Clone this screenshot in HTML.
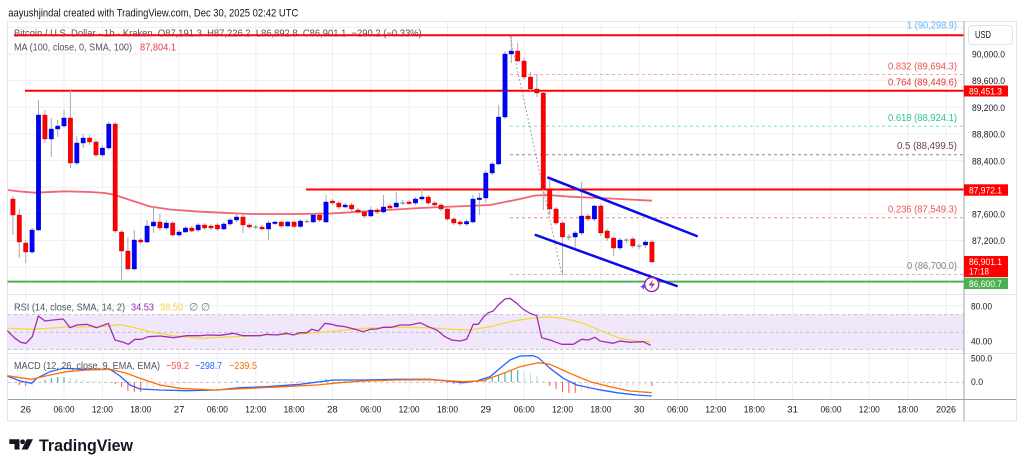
<!DOCTYPE html>
<html><head><meta charset="utf-8"><style>
html,body{margin:0;padding:0;background:#fff;}
svg{display:block;font-family:"Liberation Sans",sans-serif;}
</style></head><body>
<svg width="1024" height="468" viewBox="0 0 1024 468" xmlns="http://www.w3.org/2000/svg">
<rect width="1024" height="468" fill="#fff"/>
<text x="8.3" y="16.5" font-size="11" fill="#131722" textLength="290" lengthAdjust="spacingAndGlyphs">aayushjindal created with TradingView.com, Dec 30, 2025 02:42 UTC</text>

<!-- frame -->
<rect x="7.5" y="21.5" width="1009" height="399.5" fill="#fff" stroke="#e0e3eb" stroke-width="1"/>

<!-- vertical grid -->
<g stroke="#eeeff2" stroke-width="1">
<path d="M25.7 22V399M64 22V399M102.4 22V399M140.7 22V399M179.1 22V399M217.4 22V399M255.8 22V399M294.1 22V399M332.4 22V399M370.8 22V399M409.1 22V399M447.5 22V399M485.8 22V399M524.2 22V399M562.5 22V399M600.9 22V399M639.2 22V399M677.6 22V399M715.9 22V399M754.3 22V399M792.6 22V399M831 22V399M869.3 22V399M907.7 22V399M946 22V399"/>
<path d="M8 27.4H964M8 54H964M8 80.6H964M8 107.3H964M8 134H964M8 160.6H964M8 187.2H964M8 213.9H964M8 240.5H964M8 267.2H964M8 305.7H964M8 358H964"/>
</g>

<!-- pane separators -->
<path d="M8 294.5H1016M8 353.5H1016" stroke="#e0e3eb" stroke-width="1"/>

<!-- RSI band -->
<rect x="8" y="314.5" width="956" height="35" fill="#f1e7fb"/>
<path d="M8 314.5H964M8 332.3H964M8 349.5H964" stroke="#b8b3c4" stroke-width="0.8" stroke-dasharray="3,3"/>
<!-- MACD zero -->
<path d="M8 382.3H964" stroke="#b8b8b8" stroke-width="0.8" stroke-dasharray="3,3"/>

<!-- fib dashed lines -->
<g stroke-width="1" stroke-dasharray="3,3" fill="none">
<path d="M510 74.5H964" stroke="#f4a3a3"/>
<path d="M510 126.3H964" stroke="#7fe0bf"/>
<path d="M510 154.7H964" stroke="#a77a8c"/>
<path d="M510 217.8H964" stroke="#f08b8b"/>
<path d="M510 274.5H964" stroke="#bdbdbd"/>
</g>
<!-- fib diagonal -->
<path d="M510 36L562 275" stroke="#a0a0a0" stroke-width="1" stroke-dasharray="2,2" fill="none"/>

<!-- MA 100 -->
<polyline fill="none" stroke="#f2495a" stroke-opacity="0.85" stroke-width="1.8" stroke-linejoin="round" points="8,190 20,191.5 35,192.7 65,191.3 90,192 105,193 115,195 130,200 150,206.5 170,209.5 200,211.7 250,214 300,214 330,213.5 360,211.7 420,208 490,205 505,202 520,199 535,195.5 548,195 570,196.7 610,198.5 652,200.7"/>

<!-- legend line 1 (under red line) -->
<text x="14" y="36.5" font-size="10.5" fill="#50535e" xml:space="preserve" textLength="407.7" lengthAdjust="spacingAndGlyphs">Bitcoin / U.S. Dollar · 1h · Kraken  O87,191.3  H87,226.2  L86,892.8  C86,901.1  −290.2 (−0.33%)</text>

<!-- horizontal level lines -->
<path d="M14 35.3H964" stroke="#ff0000" stroke-width="2"/>
<path d="M25 90.7H964" stroke="#ff0000" stroke-width="2"/>
<path d="M306 189.5H964" stroke="#ff0000" stroke-width="2"/>
<path d="M7.5 281.6H964" stroke="#4caf50" stroke-width="2"/>

<!-- wicks -->
<path fill="none" stroke="#a9abb0" stroke-width="1" d="M12.9 196V235M19.3 209V258M25.7 240V263M32.1 228V254M38.5 100V231M44.9 110V143M51.3 118V157M57.7 120V137M64 110V128M70.4 89V168M76.8 136V165M83.2 134V148M89.6 135V145M96 140V157M102.4 145V157M108.8 122V150M115.2 122V233M121.6 230V280M127.9 237V270M134.3 230V270M140.7 238V244M147.1 220V243M153.5 207V233M159.9 214V231M166.3 220V230M172.7 221V236M179.1 230V237M185.5 226V233M191.8 226V232M198.2 223V232M204.6 223V230M211 224V230M217.4 223V231M223.8 222V230M230.2 218V226M236.6 213V222M243 215V233M249.4 223V229M255.7 225V229M262.1 225V230M268.5 221V240M274.9 221V225M281.3 221V228M287.7 221V227M294.1 221V228M300.5 219V228M306.9 219V223M313.3 213V223M319.6 212V222M326 195V223M332.4 199V205M338.8 201V209M345.2 203V208M351.6 203V211M358 208V214M364.4 210V218M370.8 207V217M377.2 208V214M383.5 195V213M389.9 204V210M396.3 192V209M402.7 200V205M409.1 200V205M415.5 197V205M421.9 188V201M428.3 195V205M434.7 201V207M441.1 203V211M447.4 207V221M453.8 217V225M460.2 220V226M466.6 219V226M473 195V223M479.4 193V215M485.8 170V203M492.2 162V175M498.6 105V165M505 51V119M511.3 36V63M517.7 43V62M524.1 58V79M530.5 72V91M536.9 74V97M543.3 91V210M549.7 180V215M556.1 207V225M562.5 221V275M568.9 234V240M575.2 231V248M581.6 182V235M588 214V221M594.4 205V221M600.8 204V236M607.2 229V241M613.6 236V256M620 238V250M626.4 238V243M632.8 237V248M639.1 244V249M645.5 240V248M651.9 240V262"/>

<!-- red bodies -->
<path fill="#ff0000" stroke="#c80000" stroke-width="0.4" d="M10.7 199h4.4v16h-4.4zM17.1 215h4.4v27h-4.4zM23.5 243h4.4v9h-4.4zM42.7 115h4.4v24h-4.4zM68.2 118h4.4v45h-4.4zM87.4 138h4.4v4h-4.4zM93.8 142h4.4v13h-4.4zM113 124h4.4v107h-4.4zM119.4 232h4.4v19h-4.4zM125.7 251h4.4v18h-4.4zM138.5 240h4.4v2h-4.4zM157.7 222h4.4v6h-4.4zM170.5 223h4.4v12h-4.4zM189.6 228h4.4v3h-4.4zM202.4 225h4.4v3h-4.4zM208.8 226h4.4v2h-4.4zM215.2 225h4.4v4h-4.4zM240.8 217h4.4v8h-4.4zM247.2 225h4.4v2h-4.4zM259.9 227h4.4v2h-4.4zM279.1 222h4.4v4h-4.4zM291.9 222h4.4v4.5h-4.4zM317.4 215h4.4v5h-4.4zM330.2 201h4.4v2h-4.4zM336.6 203h4.4v4h-4.4zM349.4 205h4.4v4h-4.4zM355.8 210h4.4v2h-4.4zM362.2 212h4.4v4h-4.4zM375 210h4.4v2h-4.4zM387.7 206h4.4v2h-4.4zM406.9 202h4.4v1.6h-4.4zM426.1 197h4.4v6h-4.4zM432.5 203h4.4v2h-4.4zM438.9 205h4.4v4h-4.4zM445.2 209h4.4v10h-4.4zM451.6 219h4.4v4h-4.4zM458 222h4.4v2h-4.4zM515.5 51h4.4v10h-4.4zM521.9 61h4.4v16h-4.4zM528.3 77h4.4v12h-4.4zM534.7 89h4.4v4h-4.4zM541.1 93h4.4v96h-4.4zM547.5 189h4.4v20h-4.4zM553.9 209h4.4v14h-4.4zM560.3 223h4.4v14h-4.4zM585.8 216h4.4v3h-4.4zM598.6 206h4.4v27h-4.4zM605 231h4.4v7h-4.4zM611.4 238h4.4v10h-4.4zM630.6 239h4.4v7h-4.4zM649.7 242h4.4v20h-4.4z"/>
<!-- blue bodies -->
<path fill="#0000ff" stroke="#0000b0" stroke-width="0.4" d="M29.9 230h4.4v22h-4.4zM36.3 115h4.4v115h-4.4zM49.1 129h4.4v10h-4.4zM55.5 126h4.4v3h-4.4zM61.8 118h4.4v8h-4.4zM74.6 143h4.4v20h-4.4zM81 138h4.4v5h-4.4zM100.2 148h4.4v7h-4.4zM106.6 124h4.4v24h-4.4zM132.1 240h4.4v29h-4.4zM144.9 226h4.4v16h-4.4zM151.3 222h4.4v4h-4.4zM164.1 223h4.4v5h-4.4zM176.9 232h4.4v3h-4.4zM183.3 228h4.4v4h-4.4zM196 225h4.4v5h-4.4zM221.6 224h4.4v5h-4.4zM228 220h4.4v4h-4.4zM234.4 217h4.4v3h-4.4zM266.3 223h4.4v6h-4.4zM272.7 222h4.4v1.6h-4.4zM285.5 222h4.4v4h-4.4zM298.3 221h4.4v5.5h-4.4zM311.1 215h4.4v7h-4.4zM323.8 202h4.4v20h-4.4zM343 205h4.4v2h-4.4zM368.6 210h4.4v6h-4.4zM381.3 207h4.4v5h-4.4zM394.1 203h4.4v4h-4.4zM413.3 199h4.4v4h-4.4zM419.7 197h4.4v2h-4.4zM464.4 221.5h4.4v2.5h-4.4zM470.8 199h4.4v23h-4.4zM477.2 198h4.4v1.6h-4.4zM483.6 173h4.4v25h-4.4zM490 164h4.4v9h-4.4zM496.4 117h4.4v47h-4.4zM502.8 54h4.4v63h-4.4zM509.1 51h4.4v3h-4.4zM573 233h4.4v4h-4.4zM579.4 216h4.4v17h-4.4zM592.2 206h4.4v13h-4.4zM617.8 240h4.4v8h-4.4zM643.3 242h4.4v3h-4.4z"/>
<!-- doji -->
<path fill="#6f9a8a" d="M253.5 226.5h4.4v1.2h-4.4zM304.7 221h4.4v1.2h-4.4zM400.5 202.5h4.4v1.2h-4.4zM566.7 236.5h4.4v1.2h-4.4zM624.2 239.5h4.4v1.2h-4.4zM636.9 245.5h4.4v1.2h-4.4z"/>

<!-- channel lines -->
<path d="M548.3 177.7L696.7 236M535.7 235L676.7 286" stroke="#0a0af0" stroke-width="2.5" fill="none" stroke-linecap="round"/>

<!-- lightning icon -->
<circle cx="651.7" cy="284.5" r="7" fill="#fff" stroke="#9c27b0" stroke-width="1.4"/>
<path d="M653.2 279.6L648.6 285.4H651.9L650.4 289.4L655 283.6H651.7Z" fill="#9c27b0"/>
<path d="M643.3 283.3L644.2 285.8L646.7 286.7L644.2 287.6L643.3 290.1L642.4 287.6L639.9 286.7L642.4 285.8Z" fill="#6a3de8"/>

<!-- RSI lines -->
<polyline fill="none" stroke="#f5d742" stroke-width="1.3" stroke-linejoin="round" points="7.3,328.3 33.3,329.3 66.7,327 100,326.7 120,324.7 133.3,327.3 150,331.7 173.3,335.7 200,338.3 233.3,336.7 266.7,335 300,334 330,331.7 363.3,328.3 396.7,327.3 430,327.7 446.7,329 470,330 490,326.7 510,321.7 530,318.3 546.7,317 563.3,318.3 583.3,323.3 603.3,331.7 620,338.3 636.7,341 650.7,341.7"/>
<polyline fill="none" stroke="#a12db3" stroke-width="1.3" stroke-linejoin="round" points="7.3,330.7 15,338.3 20.7,342.3 26,343.3 32.3,336.7 38.3,316 45,321 53.3,320 63.3,319 70,327.7 76.7,325 86.7,324.3 96.7,327.7 108.3,323.3 115,340 123.3,342.3 128.3,344.3 135,339.3 141.7,339.3 148.3,336.7 160,336 173.3,337.7 186.7,335.7 200,335.7 206.7,335 220,335.3 233.3,333.3 243.3,335.7 260,335.7 266.7,334.3 276.7,335 286.7,333.3 293.3,335 300,332.7 306.7,332.7 311.7,329.3 318.3,331 325,323.3 331.7,324.3 336.7,325.7 345,326.7 355,329.3 363.3,331.7 370,329.3 376.7,329 383.3,327.3 391.7,327.3 400,325 410,325 420,322.7 428.3,326.7 436.7,330 445,336.7 451.7,340 460,341 466.7,339.3 473.3,324.3 478.3,324.3 483.3,317.3 488.3,312.7 493.3,311 498.3,305 505,299 510,298.3 516.7,303.3 523.3,309.3 530,313.3 536.7,315.7 541.7,337.7 550,340 561.7,344.3 573.3,344.3 581.7,339.3 588.3,340 595,337.3 600,341 613.3,343.3 620,341 630,342.3 643.3,341.7 650.7,345.3"/>

<!-- MACD histogram -->
<g stroke-width="1" fill="none">
<path stroke="#26a69a" d="M44.9 382V380M51.3 382V378M57.7 382V377M64 382V377M236.6 382V381M262.1 382V381M300.5 382V381M326 382V379M485.8 382V380M492.2 382V378M498.6 382V375M505 382V372M511.3 382V370M517.7 382V370"/>
<path stroke="#b2dfdb" d="M70.4 382V378M76.8 382V379M83.2 382V380M89.6 382V381M96 382V381M332.4 382V379M338.8 382V379.5M345.2 382V380M351.6 382V380.5M358 382V381M383.5 382V381M409.1 382V381M434.7 382V381M524.1 382V372M530.5 382V373M536.9 382V376M543.3 382V381"/>
<path stroke="#ff5252" d="M19.3 382V385M25.7 382V386M115.2 382V384M121.6 382V387M127.9 382V391M134.3 382V392M140.7 382V392M447.4 382V383M453.8 382V384M460.2 382V384.5M549.7 382V386M556.1 382V389M562.5 382V392M568.9 382V393M575.2 382V393M651.9 382V386"/>
<path stroke="#ffcdd2" d="M12.9 382V383M32.1 382V386M38.5 382V383M147.1 382V390M153.5 382V388M159.9 382V387M166.3 382V386M172.7 382V385M179.1 382V384.5M185.5 382V384M191.8 382V383.5M198.2 382V383M466.6 382V384M581.6 382V391M588 382V390M594.4 382V388M600.8 382V388M607.2 382V388M613.6 382V388M620 382V387M626.4 382V386M632.8 382V386M639.1 382V386M645.5 382V385"/>
</g>
<!-- MACD lines -->
<polyline fill="none" stroke="#2962ff" stroke-width="1.3" stroke-linejoin="round" points="7.3,376 20,381 31.7,383.3 36.7,378.3 50,371.7 63.3,368.3 83.3,369.3 110,369.3 120,376 130,385 140,389 160,390 186.7,390.7 216.7,390 240,387.7 266.7,386.7 300,384.3 333.3,380 363.3,380 396.7,379.3 430,379.3 453.3,381.7 463.3,382.7 476.7,381 490,376.7 500,368.3 510,360 520,356 533.3,355.7 538.3,357.7 550,368.3 563.3,378.3 576.7,385 596.7,389.3 616.7,392.7 636.7,395 651.7,396"/>
<polyline fill="none" stroke="#ff6d00" stroke-width="1.3" stroke-linejoin="round" points="7.3,375.7 20,377.7 31.7,379.3 50,375 66.7,371.7 86.7,370 110,369.3 126.7,373.3 140,378.3 160,385 180,388.3 213.3,390 250,388.3 283.3,386.7 316.7,385 340,382.7 363.3,381 396.7,380 430,379.7 463.3,381.7 483.3,380.7 503.3,373.3 520,366.7 538.3,362.7 550,364.3 570,373.3 590,381.7 610,386.7 630,391 651.7,392.7"/>

<!-- axis lines -->
<path d="M964 21.5V421M8 399.5H1016" stroke="#a0a3ab" stroke-width="1"/>

<!-- legends -->
<text x="14" y="50.5" font-size="10.5" fill="#50535e" textLength="118" lengthAdjust="spacingAndGlyphs">MA (100, close, 0, SMA, 100)</text>
<text x="140" y="50.5" font-size="10.5" fill="#f23645" textLength="36" lengthAdjust="spacingAndGlyphs">87,804.1</text>

<text x="14" y="310.5" font-size="10.5" fill="#50535e" textLength="111" lengthAdjust="spacingAndGlyphs">RSI (14, close, SMA, 14, 2)</text>
<text x="131" y="310.5" font-size="10.5" fill="#9c27b0" textLength="23" lengthAdjust="spacingAndGlyphs">34.53</text>
<text x="160" y="310.5" font-size="10.5" fill="#f5d742" textLength="23" lengthAdjust="spacingAndGlyphs">38.50</text>
<text x="189" y="310.5" font-size="10.5" fill="#787b86">∅</text>
<text x="201" y="310.5" font-size="10.5" fill="#787b86">∅</text>

<text x="14" y="369" font-size="10.5" fill="#50535e" textLength="146" lengthAdjust="spacingAndGlyphs">MACD (12, 26, close, 9, EMA, EMA)</text>
<text x="166" y="369" font-size="10.5" fill="#ff5252" textLength="23" lengthAdjust="spacingAndGlyphs">−59.2</text>
<text x="195" y="369" font-size="10.5" fill="#2962ff" textLength="27" lengthAdjust="spacingAndGlyphs">−298.7</text>
<text x="229" y="369" font-size="10.5" fill="#ff6d00" textLength="28" lengthAdjust="spacingAndGlyphs">−239.5</text>

<!-- fib labels -->
<g font-size="10" text-anchor="end">
<text x="957" y="28.5" fill="#64b5f6" textLength="50" lengthAdjust="spacingAndGlyphs">1 (90,298.9)</text>
<text x="957" y="69.5" fill="#ef5350" textLength="69" lengthAdjust="spacingAndGlyphs">0.832 (89,694.3)</text>
<text x="957" y="85.5" fill="#e53935" textLength="69" lengthAdjust="spacingAndGlyphs">0.764 (89,449.6)</text>
<text x="957" y="120.8" fill="#2bc48a" textLength="69" lengthAdjust="spacingAndGlyphs">0.618 (88,924.1)</text>
<text x="957" y="149.2" fill="#6e3a5a" textLength="60" lengthAdjust="spacingAndGlyphs">0.5 (88,499.5)</text>
<text x="957" y="212.5" fill="#ef5350" textLength="69" lengthAdjust="spacingAndGlyphs">0.236 (87,549.3)</text>
<text x="957" y="269.2" fill="#808080" textLength="50" lengthAdjust="spacingAndGlyphs">0 (86,700.0)</text>
</g>

<!-- price axis -->
<rect x="968.5" y="25.5" width="44" height="19" rx="3" fill="#fff" stroke="#e0e3eb"/>
<text x="975" y="37.8" font-size="10" fill="#131722" textLength="16" lengthAdjust="spacingAndGlyphs">USD</text>
<g font-size="9.5" fill="#131722">
<text x="972" y="57.3" textLength="33" lengthAdjust="spacingAndGlyphs">90,000.0</text>
<text x="972" y="84" textLength="33" lengthAdjust="spacingAndGlyphs">89,600.0</text>
<text x="972" y="111" textLength="33" lengthAdjust="spacingAndGlyphs">89,200.0</text>
<text x="972" y="137.6" textLength="33" lengthAdjust="spacingAndGlyphs">88,800.0</text>
<text x="972" y="164.3" textLength="33" lengthAdjust="spacingAndGlyphs">88,400.0</text>
<text x="972" y="217.3" textLength="33" lengthAdjust="spacingAndGlyphs">87,600.0</text>
<text x="972" y="243.8" textLength="33" lengthAdjust="spacingAndGlyphs">87,200.0</text>
<text x="971" y="309.3" textLength="21" lengthAdjust="spacingAndGlyphs">80.00</text>
<text x="971" y="344.3" textLength="21" lengthAdjust="spacingAndGlyphs">40.00</text>
<text x="971" y="361.6" textLength="21" lengthAdjust="spacingAndGlyphs">500.0</text>
<text x="971" y="385" textLength="12" lengthAdjust="spacingAndGlyphs">0.0</text>
</g>
<rect x="964" y="85.5" width="44" height="11" fill="#ff0000"/>
<text x="969" y="94.3" font-size="9.5" fill="#fff" textLength="33" lengthAdjust="spacingAndGlyphs">89,451.3</text>
<rect x="964" y="184.3" width="44" height="11.4" fill="#ff0000"/>
<text x="969" y="193.3" font-size="9.5" fill="#fff" textLength="33" lengthAdjust="spacingAndGlyphs">87,972.1</text>
<rect x="964" y="256" width="44" height="21" fill="#ff0000"/>
<text x="969" y="264.8" font-size="9.5" fill="#fff" textLength="33" lengthAdjust="spacingAndGlyphs">86,901.1</text>
<text x="969" y="274.6" font-size="9.5" fill="#fff" textLength="20" lengthAdjust="spacingAndGlyphs">17:18</text>
<rect x="964" y="277.7" width="44" height="11.4" fill="#4caf50"/>
<text x="969" y="286.8" font-size="9.5" fill="#fff" textLength="33" lengthAdjust="spacingAndGlyphs">86,600.7</text>

<!-- time axis -->
<g font-size="9.5" fill="#131722" text-anchor="middle">
<text x="25.7" y="412.5">26</text>
<text x="64" y="412.5" textLength="21" lengthAdjust="spacingAndGlyphs">06:00</text>
<text x="102.4" y="412.5" textLength="21" lengthAdjust="spacingAndGlyphs">12:00</text>
<text x="140.7" y="412.5" textLength="21" lengthAdjust="spacingAndGlyphs">18:00</text>
<text x="179.1" y="412.5">27</text>
<text x="217.4" y="412.5" textLength="21" lengthAdjust="spacingAndGlyphs">06:00</text>
<text x="255.8" y="412.5" textLength="21" lengthAdjust="spacingAndGlyphs">12:00</text>
<text x="294.1" y="412.5" textLength="21" lengthAdjust="spacingAndGlyphs">18:00</text>
<text x="332.4" y="412.5">28</text>
<text x="370.8" y="412.5" textLength="21" lengthAdjust="spacingAndGlyphs">06:00</text>
<text x="409.1" y="412.5" textLength="21" lengthAdjust="spacingAndGlyphs">12:00</text>
<text x="447.5" y="412.5" textLength="21" lengthAdjust="spacingAndGlyphs">18:00</text>
<text x="485.8" y="412.5">29</text>
<text x="524.2" y="412.5" textLength="21" lengthAdjust="spacingAndGlyphs">06:00</text>
<text x="562.5" y="412.5" textLength="21" lengthAdjust="spacingAndGlyphs">12:00</text>
<text x="600.9" y="412.5" textLength="21" lengthAdjust="spacingAndGlyphs">18:00</text>
<text x="639.2" y="412.5">30</text>
<text x="677.6" y="412.5" textLength="21" lengthAdjust="spacingAndGlyphs">06:00</text>
<text x="715.9" y="412.5" textLength="21" lengthAdjust="spacingAndGlyphs">12:00</text>
<text x="754.3" y="412.5" textLength="21" lengthAdjust="spacingAndGlyphs">18:00</text>
<text x="792.6" y="412.5">31</text>
<text x="831" y="412.5" textLength="21" lengthAdjust="spacingAndGlyphs">06:00</text>
<text x="869.3" y="412.5" textLength="21" lengthAdjust="spacingAndGlyphs">12:00</text>
<text x="907.7" y="412.5" textLength="21" lengthAdjust="spacingAndGlyphs">18:00</text>
<text x="946" y="412.5" textLength="20" lengthAdjust="spacingAndGlyphs">2026</text>
</g>

<!-- TradingView logo -->
<g fill="#131722">
<path d="M9.3 439.3H19.5V449.5H14.5V444H9.3Z"/>
<circle cx="22.6" cy="441.8" r="2.4"/>
<path d="M26.8 439.3H33L27.8 449.5H21.6Z"/>
<text x="39" y="451" font-size="17" font-weight="bold" textLength="94" lengthAdjust="spacingAndGlyphs">TradingView</text>
</g>
</svg>
</body></html>
